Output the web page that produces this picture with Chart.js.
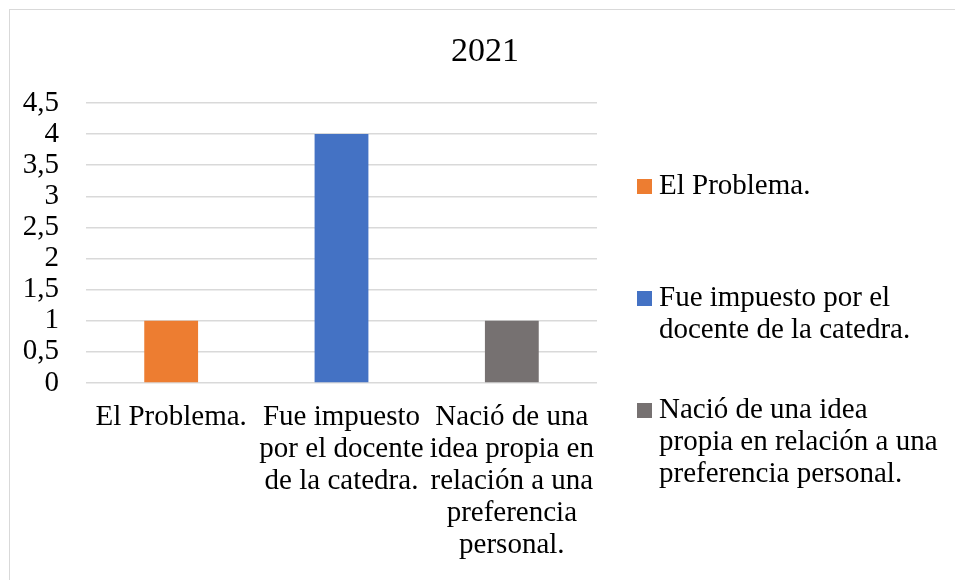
<!DOCTYPE html>
<html>
<head>
<meta charset="utf-8">
<script src="https://cdn.jsdelivr.net/npm/chart.js@4.4.0/dist/chart.umd.min.js"></script>
<style>
  html, body { margin: 0; padding: 0; background: #fff; overflow: hidden; }
  #frame { position: absolute; left: 9px; top: 9px; width: 960px; height: 600px; border: 1px solid #d9d9d9; }
  #wrap { position: absolute; left: 0; top: 0; width: 955px; height: 580px; }
</style>
</head>
<body>
<div id="frame"></div>
<div id="wrap"><canvas id="myChart" width="955" height="580"></canvas></div>
<script>
var chartTitle = "2021";
var xLabels = [
  ["El Problema."],
  ["Fue impuesto", "por el docente", "de la catedra."],
  ["Nació de una", "idea propia en", "relación a una", "preferencia", "personal."]
];
var legendLabels = [
  ["El Problema."],
  ["Fue impuesto por el", "docente de la catedra."],
  ["Nació de una idea", "propia en relación a una", "preferencia personal."]
];
var yValues = [1, 4, 1];
var barColors = ["#ed7d31", "#4472c4", "#767171"];

var fontFamily = "'Liberation Serif', 'Times New Roman', serif";

// title + legend drawn by hand so they sit where Excel put them
var sideLegend = {
  id: "sideLegend",
  afterDraw: function (chart) {
    var ctx = chart.ctx;
    var tops = [186, 298, 410];
    ctx.save();
    ctx.fillStyle = "#000";
    ctx.font = "34px " + fontFamily;
    ctx.textAlign = "center";
    ctx.textBaseline = "middle";
    ctx.fillText(chartTitle, 485, 52);

    ctx.font = "29px " + fontFamily;
    ctx.textAlign = "left";
    for (var i = 0; i < legendLabels.length; i++) {
      ctx.fillStyle = chart.data.datasets[0].backgroundColor[i];
      ctx.fillRect(637, tops[i] - 7, 15, 15);
      ctx.fillStyle = "#000";
      for (var j = 0; j < legendLabels[i].length; j++) {
        ctx.fillText(legendLabels[i][j], 659, tops[i] + j * 32);
      }
    }
    ctx.restore();
  }
};

new Chart(document.getElementById("myChart"), {
  type: "bar",
  data: {
    labels: xLabels,
    datasets: [{
      data: yValues,
      backgroundColor: barColors,
      categoryPercentage: 1,
      barPercentage: 0.316
    }]
  },
  options: {
    responsive: false,
    animation: false,
    layout: { padding: { left: 0, right: 358, top: 103, bottom: 0 } },
    plugins: {
      legend: { display: false },
      tooltip: { enabled: false },
      title: { display: false }
    },
    scales: {
      x: {
        grid: { display: false },
        border: { display: false },
        ticks: {
          color: "#000",
          font: { family: fontFamily, size: 29, lineHeight: 32 / 29 },
          maxRotation: 0,
          autoSkip: false,
          padding: 10
        },
        afterFit: function (scale) { scale.height = 197; }
      },
      y: {
        min: 0,
        max: 4.5,
        grid: { color: "#d9d9d9", lineWidth: 1.5, drawTicks: false },
        border: { display: false },
        ticks: {
          stepSize: 0.5,
          autoSkip: false,
          color: "#000",
          padding: 27,
          font: { family: fontFamily, size: 29 },
          callback: function (v) { return String(v).replace(".", ","); }
        },
        afterFit: function (scale) { scale.width = 86; }
      }
    }
  },
  plugins: [sideLegend]
});
</script>
</body>
</html>
